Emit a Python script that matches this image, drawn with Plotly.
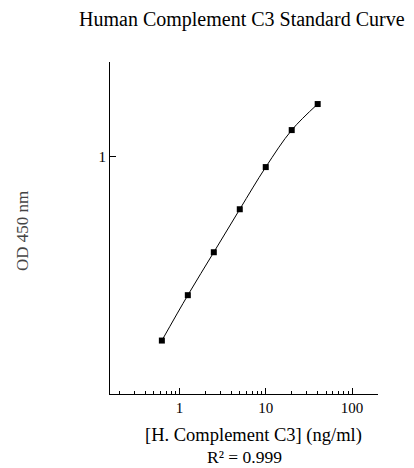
import numpy as np
import plotly.graph_objects as go

conc = [0.625, 1.25, 2.5, 5, 10, 20, 40]
od = [0.168, 0.261, 0.396, 0.601, 0.905, 1.296, 1.669]

x_major = [1, 10, 100]
x_major_labels = ["1", "10", "100"]
x_minor = [0.2, 0.3, 0.4, 0.5, 0.6, 0.7, 0.8, 0.9,
           2, 3, 4, 5, 6, 7, 8, 9,
           20, 30, 40, 50, 60, 70, 80, 90, 200]
y_major = [1]
y_major_labels = ["1"]

FONT = "Liberation Serif"
W, H = 414, 468
L, R, T, B = 110, 36, 62, 74
PW, PH = W - L - R, H - T - B


def px(x):
    return (x - L) / PW


def py(y):
    return (H - B - y) / PH


fig = go.Figure()
fig.add_trace(go.Scatter(
    x=conc, y=od, mode="lines+markers",
    line=dict(color="black", width=1, shape="spline"),
    marker=dict(symbol="square", size=6, color="black"),
    showlegend=False,
))

fig.update_layout(
    width=W, height=H,
    margin=dict(l=L, r=R, t=T, b=B),
    paper_bgcolor="white", plot_bgcolor="white",
    font=dict(family=FONT, color="black"),
    xaxis=dict(
        type="log", range=[np.log10(0.1566), np.log10(200)],
        showline=True, linecolor="black", linewidth=1,
        showgrid=False, zeroline=False, mirror=False,
        ticks="inside", ticklen=6, tickcolor="black",
        tickvals=x_major, ticktext=x_major_labels,
        tickfont=dict(family=FONT, size=15, color="black"),
        minor=dict(ticks="inside", ticklen=3, tickcolor="black",
                   tickvals=x_minor, showgrid=False),
    ),
    yaxis=dict(
        type="log", range=[-1, np.log10(2.51)],
        showline=True, linecolor="black", linewidth=1,
        showgrid=False, zeroline=False, mirror=False,
        ticks="inside", ticklen=6, tickcolor="black",
        tickvals=y_major, ticktext=y_major_labels,
        tickfont=dict(family=FONT, size=15, color="black"),
    ),
    annotations=[
        dict(text="Human Complement C3 Standard Curve", x=px(241.5), y=py(20),
             xref="paper", yref="paper", xanchor="center", yanchor="middle",
             showarrow=False, font=dict(family=FONT, size=20, color="black")),
        dict(text="[H. Complement C3] (ng/ml)", x=px(253.5), y=py(435),
             xref="paper", yref="paper", xanchor="center", yanchor="middle",
             showarrow=False, font=dict(family=FONT, size=18.5, color="black")),
        dict(text="R² = 0.999", x=px(244), y=py(457),
             xref="paper", yref="paper", xanchor="center", yanchor="middle",
             showarrow=False, font=dict(family=FONT, size=17.5, color="black")),
        dict(text="OD 450 nm", x=px(22), y=py(231), textangle=-90,
             xref="paper", yref="paper", xanchor="center", yanchor="middle",
             showarrow=False, font=dict(family=FONT, size=17, color="#444")),
    ],
)

fig.write_html("out.html", config={"displayModeBar": False},
               post_script="document.body.style.margin='0';")
